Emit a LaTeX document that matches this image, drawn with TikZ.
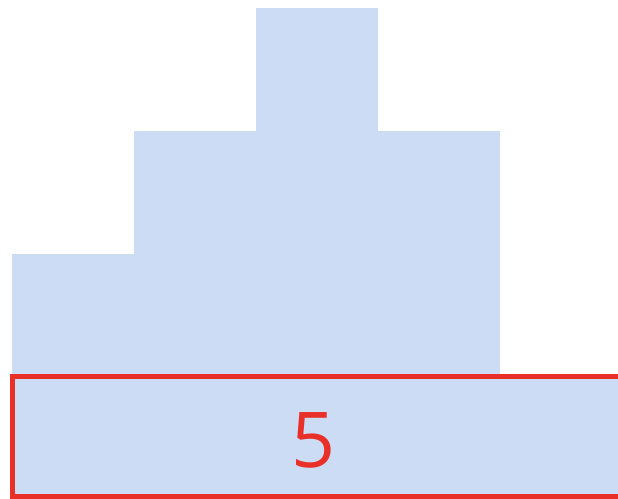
\documentclass[tikz,border=0pt]{standalone}
\usepackage{fontspec}
\setmainfont{Open Sans}
\usepackage{tikz}
\usetikzlibrary{positioning}
\definecolor{barblue}{RGB}{204,220,244}
\definecolor{sumred}{RGB}{232,48,40}

\begin{document}
\begin{tikzpicture}[
  x=1pt, y=1pt,
  bar/.style={rectangle, fill=barblue, inner sep=0pt, outer sep=0pt, minimum width=122pt, anchor=south west},
  total/.style={rectangle, draw=sumred, line width=5pt, fill=barblue, inner sep=0pt, outer sep=0pt, anchor=south west},
  num/.style={text=sumred, font=\fontsize{77}{77}\selectfont}
]
\useasboundingbox (0,0) rectangle (618,498);
\clip (0,0) rectangle (618,498);
\node[bar, minimum height=123pt] (c1) at (12,121) {};
\node[bar, minimum height=246pt] (c2) at (134,121) {};
\node[bar, minimum height=369pt] (c3) at (256,121) {};
\node[bar, minimum height=246pt] (c4) at (378,121) {};
\node[total, minimum width=640pt, minimum height=119pt] (sum) at (12,2) {};
\node[num] (sumval) at (314,58) {5};
\end{tikzpicture}
\end{document}
